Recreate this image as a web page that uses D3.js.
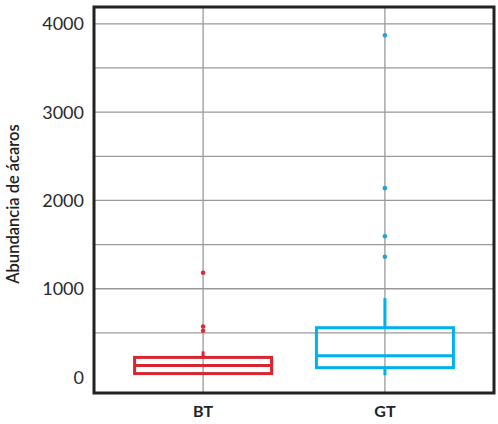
<!DOCTYPE html>
<html>
<head>
<meta charset="utf-8">
<script src="https://cdn.jsdelivr.net/npm/d3@7"></script>
<style>
  body { margin: 0; background: #fff; }
  text { font-family: "Lato", "Noto Sans", sans-serif; }
</style>
</head>
<body>
<div id="chart"></div>
<script>
// groups and box statistics
const groups = ["BT", "GT"];
const q1 = [40, 107];
const median = [130, 243];
const q3 = [223, 559];
const whiskerLow = [40, 20];
const whiskerHigh = [291, 894];
const outliersBT = [1182, 573, 524];
const outliersGT = [3871, 2139, 1594, 1363];
const colors = ["#d7262f", "#00b0ef"];
const dotColors = ["#d13039", "#2a9fd6"];
const yTicks = [0, 1000, 2000, 3000, 4000];
const gridTicks = [500, 1000, 1500, 2000, 2500, 3000, 3500, 4000];

const width = 498, height = 424;
const margin = { top: 7, right: 4, bottom: 31, left: 94 };

const svg = d3.select("#chart").append("svg")
    .attr("width", width)
    .attr("height", height);

const x = d3.scalePoint()
    .domain(groups)
    .range([margin.left, width - margin.right])
    .padding(0.6);

const y = d3.scaleLinear()
    .domain([-180, 4190])
    .range([height - margin.bottom, margin.top]);

// grid
svg.append("g").selectAll("line")
    .data(gridTicks)
    .enter().append("line")
    .attr("x1", margin.left).attr("x2", width - margin.right)
    .attr("y1", d => y(d)).attr("y2", d => y(d))
    .attr("stroke", "#9a9a9a")
    .attr("stroke-width", 1.3);

svg.append("g").selectAll("line")
    .data(groups)
    .enter().append("line")
    .attr("x1", d => x(d)).attr("x2", d => x(d))
    .attr("y1", margin.top).attr("y2", height - margin.bottom)
    .attr("stroke", "#9a9a9a")
    .attr("stroke-width", 1.3);

// y tick labels
svg.append("g").selectAll("text")
    .data(yTicks)
    .enter().append("text")
    .attr("x", 84)
    .attr("y", d => y(d))
    .attr("dy", "0.36em")
    .attr("text-anchor", "end")
    .style("font-size", "18px")
    .style("fill", "#2a2a2a")
    .text(d => d);

// x labels
svg.append("g").selectAll("text")
    .data(groups)
    .enter().append("text")
    .attr("x", d => x(d))
    .attr("y", 417)
    .attr("text-anchor", "middle")
    .style("font-size", "16px")
    .style("font-weight", "bold")
    .style("fill", "#222")
    .text(d => d);

// y title
svg.append("text")
    .attr("transform", "translate(19,204) rotate(-90)")
    .attr("text-anchor", "middle")
    .style("font-size", "16.5px")
    .style("font-weight", "600")
    .style("fill", "#222")
    .text("Abundancia de ácaros");

// boxes
const boxW = 137;
const box = svg.append("g").selectAll("g")
    .data(groups)
    .enter().append("g");

box.append("line")
    .attr("x1", d => x(d)).attr("x2", d => x(d))
    .attr("y1", (d, i) => y(q3[i])).attr("y2", (d, i) => y(whiskerHigh[i]))
    .attr("stroke", (d, i) => colors[i])
    .attr("stroke-width", 3);

box.append("line")
    .attr("x1", d => x(d)).attr("x2", d => x(d))
    .attr("y1", (d, i) => y(q1[i])).attr("y2", (d, i) => y(whiskerLow[i]))
    .attr("stroke", (d, i) => colors[i])
    .attr("stroke-width", 3);

box.append("rect")
    .attr("x", d => x(d) - boxW / 2)
    .attr("width", boxW)
    .attr("y", (d, i) => y(q3[i]))
    .attr("height", (d, i) => y(q1[i]) - y(q3[i]))
    .attr("fill", "none")
    .attr("stroke", (d, i) => colors[i])
    .attr("stroke-width", 3);

box.append("line")
    .attr("x1", d => x(d) - boxW / 2).attr("x2", d => x(d) + boxW / 2)
    .attr("y1", (d, i) => y(median[i])).attr("y2", (d, i) => y(median[i]))
    .attr("stroke", (d, i) => colors[i])
    .attr("stroke-width", 3);

// outliers
const outliers = [outliersBT, outliersGT];
groups.forEach((g, i) => {
    svg.append("g").selectAll("circle")
        .data(outliers[i])
        .enter().append("circle")
        .attr("cx", x(g))
        .attr("cy", d => y(d))
        .attr("r", 2.3)
        .attr("fill", dotColors[i]);
});

// frame
svg.append("rect")
    .attr("x", margin.left)
    .attr("y", margin.top)
    .attr("width", width - margin.left - margin.right)
    .attr("height", height - margin.top - margin.bottom)
    .attr("fill", "none")
    .attr("stroke", "#222")
    .attr("stroke-width", 3);
</script>
</body>
</html>
